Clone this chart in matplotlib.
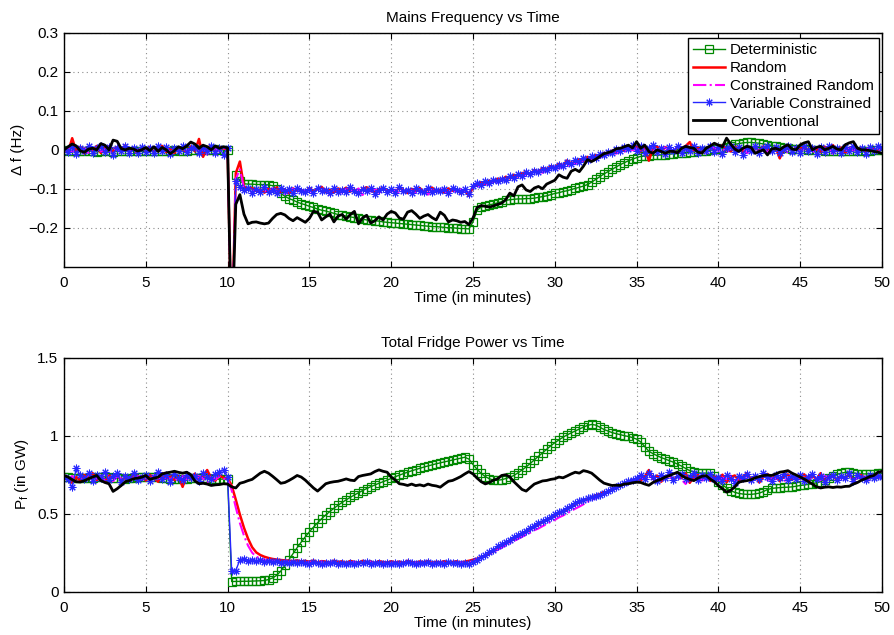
import numpy as np
import matplotlib
matplotlib.use("Agg")
import matplotlib.pyplot as plt

plt.rcParams['font.family'] = ['Liberation Sans', 'DejaVu Sans']
plt.rcParams['font.size'] = 11

# время, шаг 0.25 мин
t = np.arange(201) * 0.25

labels = ['Deterministic', 'Random', 'Constrained Random',
          'Variable Constrained', 'Conventional']

# --- отклонение частоты, Гц ---
det_f = [0.000, -0.002, -0.003, -0.002, -0.004, -0.003, -0.002, -0.004, -0.005, -0.004,
         -0.003, -0.004, -0.005, -0.003, -0.002, -0.004, -0.003, -0.002, -0.003, -0.004,
         -0.004, -0.003, -0.002, -0.003, -0.004, -0.003, -0.002, -0.001, -0.002, -0.003,
         -0.002, -0.001, 0.000, 0.001, 0.000, -0.001, 0.000, 0.001, 0.000, 0.000,
         0.000, -0.500, -0.065, -0.080, -0.087, -0.088, -0.088, -0.089, -0.089, -0.089,
         -0.090, -0.092, -0.100, -0.112, -0.119, -0.125, -0.129, -0.134, -0.138, -0.141,
         -0.145, -0.148, -0.152, -0.155, -0.157, -0.160, -0.163, -0.166, -0.168, -0.170,
         -0.172, -0.174, -0.176, -0.178, -0.180, -0.181, -0.182, -0.183, -0.185, -0.186,
         -0.187, -0.188, -0.189, -0.190, -0.191, -0.192, -0.193, -0.194, -0.195, -0.196,
         -0.197, -0.197, -0.198, -0.199, -0.200, -0.200, -0.201, -0.202, -0.202, -0.203,
         -0.185, -0.155, -0.147, -0.144, -0.141, -0.139, -0.136, -0.133, -0.130, -0.128,
         -0.127, -0.126, -0.126, -0.125, -0.125, -0.124, -0.122, -0.120, -0.118, -0.115,
         -0.112, -0.110, -0.107, -0.105, -0.102, -0.099, -0.096, -0.093, -0.089, -0.083,
         -0.076, -0.069, -0.062, -0.056, -0.050, -0.044, -0.038, -0.033, -0.028, -0.024,
         -0.020, -0.017, -0.016, -0.015, -0.014, -0.014, -0.013, -0.012, -0.011, -0.010,
         -0.009, -0.008, -0.007, -0.006, -0.005, -0.004, -0.003, -0.002, -0.001, 0.001,
         0.003, 0.005, 0.008, 0.011, 0.014, 0.016, 0.018, 0.019, 0.019, 0.018,
         0.017, 0.015, 0.013, 0.011, 0.009, 0.007, 0.005, 0.004, 0.003, 0.002,
         0.002, 0.001, 0.000, 0.000, -0.001, -0.001, -0.002, -0.002, -0.002, -0.003,
         -0.003, -0.003, -0.002, -0.002, -0.003, -0.003, -0.002, -0.002, -0.001, -0.001,
         -0.001]

rnd_f = [0.002, -0.006, 0.030, -0.004, 0.008, -0.010, 0.006, -0.003, 0.010, -0.008,
         0.004, 0.009, -0.006, 0.007, -0.002, 0.012, -0.005, 0.003, -0.009, 0.006,
         -0.004, 0.008, -0.007, 0.005, 0.010, -0.006, 0.003, -0.008, 0.006, 0.002,
         -0.005, 0.009, -0.004, 0.028, -0.018, 0.006, 0.010, -0.004, 0.008, 0.003,
         0.002, -0.500, -0.060, -0.030, -0.095, -0.100, -0.098, -0.106, -0.102, -0.110,
         -0.100, -0.104, -0.096, -0.108, -0.101, -0.112, -0.099, -0.105, -0.103, -0.109,
         -0.098, -0.106, -0.101, -0.095, -0.108, -0.103, -0.110, -0.099, -0.104, -0.097,
         -0.107, -0.102, -0.112, -0.100, -0.096, -0.105, -0.109, -0.101, -0.098, -0.106,
         -0.103, -0.108, -0.097, -0.104, -0.111, -0.100, -0.106, -0.098, -0.109, -0.102,
         -0.097, -0.107, -0.103, -0.110, -0.099, -0.105, -0.101, -0.112, -0.104, -0.118,
         -0.095, -0.090, -0.083, -0.088, -0.079, -0.082, -0.074, -0.078, -0.069, -0.073,
         -0.064, -0.068, -0.060, -0.057, -0.062, -0.052, -0.056, -0.047, -0.050, -0.042,
         -0.045, -0.036, -0.040, -0.027, -0.035, -0.030, -0.024, -0.029, -0.018, -0.022,
         -0.013, -0.017, -0.008, -0.012, -0.002, -0.006, 0.004, -0.001, 0.008, 0.002,
         0.010, -0.004, 0.006, -0.028, 0.004, 0.009, -0.005, 0.007, 0.002, -0.006,
         0.008, 0.003, 0.010, 0.020, -0.003, 0.006, -0.008, 0.004, 0.009, -0.002,
         0.006, 0.012, 0.002, -0.004, 0.008, 0.003, -0.006, 0.010, 0.000, 0.005,
         -0.003, 0.009, 0.002, -0.005, 0.007, -0.022, 0.004, 0.008, -0.002, 0.006,
         0.003, 0.010, -0.004, 0.007, 0.001, -0.006, 0.008, 0.002, 0.012, -0.003,
         0.006, -0.008, 0.004, 0.009, 0.000, 0.005, -0.004, 0.007, 0.002, -0.003,
         0.004]

crd_f = [0.000, 0.004, -0.006, 0.008, -0.003, 0.005, -0.008, 0.003, 0.006, -0.004,
         0.002, -0.007, 0.005, 0.000, -0.006, 0.004, -0.010, 0.006, -0.002, 0.003,
         0.005, -0.003, 0.007, -0.005, 0.002, 0.006, -0.008, 0.004, -0.002, 0.007,
         -0.004, 0.003, 0.010, -0.006, 0.002, -0.012, 0.005, 0.003, -0.004, 0.004,
         0.000, -0.500, -0.075, -0.050, -0.098, -0.104, -0.110, -0.100, -0.107, -0.103,
         -0.112, -0.099, -0.106, -0.101, -0.114, -0.104, -0.100, -0.109, -0.102, -0.106,
         -0.104, -0.112, -0.099, -0.107, -0.102, -0.115, -0.101, -0.106, -0.110, -0.100,
         -0.104, -0.108, -0.099, -0.116, -0.103, -0.107, -0.101, -0.110, -0.105, -0.099,
         -0.108, -0.102, -0.113, -0.100, -0.106, -0.104, -0.111, -0.101, -0.107, -0.115,
         -0.102, -0.108, -0.100, -0.106, -0.112, -0.103, -0.109, -0.101, -0.106, -0.110,
         -0.098, -0.094, -0.089, -0.085, -0.090, -0.081, -0.084, -0.076, -0.080, -0.071,
         -0.075, -0.066, -0.070, -0.062, -0.066, -0.058, -0.054, -0.059, -0.049, -0.053,
         -0.044, -0.048, -0.039, -0.042, -0.033, -0.037, -0.028, -0.031, -0.024, -0.026,
         -0.018, -0.021, -0.012, -0.015, -0.007, -0.010, -0.002, -0.005, 0.002, -0.001,
         0.003, -0.006, 0.005, -0.003, 0.007, -0.012, 0.002, 0.006, -0.004, 0.003,
         -0.008, 0.005, 0.001, -0.005, 0.007, -0.002, 0.004, -0.010, 0.003, 0.006,
         -0.003, 0.004, -0.007, 0.006, 0.001, -0.004, 0.005, -0.009, 0.003, 0.007,
         -0.002, 0.004, -0.006, 0.002, 0.006, -0.004, 0.003, -0.008, 0.005, 0.001,
         -0.005, 0.004, 0.000, -0.007, 0.006, 0.002, -0.004, 0.005, -0.010, 0.003,
         0.001, -0.004, 0.006, -0.002, 0.004, -0.006, 0.002, 0.005, -0.003, 0.001,
         0.002]

var_f = [0.003, -0.005, 0.008, -0.010, 0.006, -0.004, 0.009, -0.008, 0.004, 0.010,
         -0.006, 0.007, -0.012, 0.005, -0.003, 0.011, -0.007, 0.004, -0.009, 0.008,
         -0.005, 0.006, -0.009, 0.010, -0.004, 0.007, -0.011, 0.005, -0.003, 0.009,
         -0.006, 0.004, 0.008, -0.007, 0.006, -0.004, 0.010, -0.008, 0.005, -0.012,
         0.004, -0.500, -0.080, -0.095, -0.104, -0.098, -0.110, -0.101, -0.107, -0.096,
         -0.109, -0.103, -0.112, -0.099, -0.106, -0.101, -0.111, -0.097, -0.105, -0.108,
         -0.100, -0.110, -0.097, -0.106, -0.102, -0.112, -0.098, -0.107, -0.103, -0.109,
         -0.096, -0.105, -0.111, -0.100, -0.106, -0.099, -0.113, -0.102, -0.097, -0.108,
         -0.101, -0.110, -0.095, -0.106, -0.103, -0.112, -0.099, -0.105, -0.108, -0.097,
         -0.109, -0.102, -0.106, -0.100, -0.111, -0.098, -0.104, -0.107, -0.101, -0.114,
         -0.092, -0.086, -0.090, -0.081, -0.084, -0.078, -0.081, -0.074, -0.077, -0.068,
         -0.072, -0.063, -0.067, -0.058, -0.062, -0.054, -0.057, -0.048, -0.052, -0.043,
         -0.046, -0.038, -0.041, -0.032, -0.036, -0.027, -0.030, -0.022, -0.026, -0.016,
         -0.020, -0.010, -0.014, -0.005, -0.008, 0.002, -0.003, 0.008, 0.003, 0.012,
         -0.004, 0.009, -0.008, 0.006, 0.012, -0.006, 0.004, -0.010, 0.008, -0.003,
         0.010, -0.007, 0.005, -0.002, 0.011, -0.008, 0.006, -0.004, 0.009, -0.006,
         0.007, -0.010, 0.004, 0.010, -0.005, 0.008, -0.012, 0.006, -0.003, 0.009,
         -0.007, 0.005, 0.011, -0.004, 0.007, -0.009, 0.003, 0.010, -0.006, 0.004,
         -0.008, 0.009, -0.003, 0.006, -0.011, 0.007, -0.005, 0.010, -0.004, 0.005,
         -0.009, 0.008, -0.002, 0.011, -0.006, 0.004, -0.010, 0.007, -0.003, 0.009,
         0.005]

cnv_f = [0.000, 0.008, 0.015, 0.010, -0.003, -0.006, 0.002, 0.004, 0.000, 0.016,
         0.012, 0.000, 0.025, 0.022, 0.003, 0.000, 0.004, 0.002, -0.003, 0.000,
         0.006, -0.002, 0.008, -0.004, 0.006, 0.000, -0.010, -0.002, 0.008, 0.003,
         0.010, 0.020, 0.015, 0.004, 0.012, 0.008, 0.000, 0.010, 0.004, 0.008,
         0.005, -0.500, -0.140, -0.115, -0.165, -0.190, -0.186, -0.185, -0.188, -0.190,
         -0.188, -0.176, -0.166, -0.163, -0.167, -0.176, -0.182, -0.174, -0.180, -0.186,
         -0.176, -0.158, -0.160, -0.180, -0.172, -0.165, -0.185, -0.170, -0.166, -0.178,
         -0.166, -0.158, -0.190, -0.175, -0.168, -0.188, -0.182, -0.172, -0.180, -0.165,
         -0.158, -0.162, -0.175, -0.178, -0.160, -0.156, -0.165, -0.176, -0.170, -0.166,
         -0.174, -0.180, -0.160, -0.168, -0.185, -0.180, -0.182, -0.186, -0.184, -0.192,
         -0.175, -0.148, -0.143, -0.145, -0.147, -0.144, -0.140, -0.137, -0.128, -0.111,
         -0.118, -0.095, -0.090, -0.103, -0.107, -0.098, -0.094, -0.100, -0.088, -0.083,
         -0.078, -0.064, -0.070, -0.073, -0.055, -0.050, -0.056, -0.042, -0.025, -0.030,
         -0.024, -0.017, -0.010, -0.007, -0.004, 0.003, 0.004, 0.008, 0.012, 0.005,
         0.021, 0.004, 0.012, -0.004, -0.009, 0.000, -0.004, -0.009, -0.004, -0.004,
         -0.008, 0.004, 0.009, 0.006, 0.004, -0.006, -0.008, 0.004, 0.010, 0.017,
         0.012, 0.008, 0.030, 0.015, 0.002, -0.004, 0.004, 0.009, 0.006, -0.009,
         -0.004, 0.000, -0.013, 0.002, 0.004, 0.000, 0.008, 0.013, 0.002, 0.000,
         0.013, 0.018, 0.021, 0.000, 0.006, 0.009, 0.000, 0.004, 0.009, 0.002,
         0.000, 0.013, 0.018, 0.021, 0.004, 0.000, 0.000, -0.002, -0.004, -0.006,
         -0.009]

# --- мощность холодильников, ГВт ---
det_p = [0.735, 0.733, 0.731, 0.728, 0.726, 0.727, 0.729, 0.731, 0.733, 0.735,
         0.736, 0.734, 0.731, 0.728, 0.726, 0.725, 0.727, 0.730, 0.733, 0.735,
         0.737, 0.738, 0.736, 0.733, 0.730, 0.727, 0.724, 0.722, 0.721, 0.722,
         0.724, 0.727, 0.729, 0.730, 0.729, 0.727, 0.724, 0.722, 0.721, 0.722,
         0.720, 0.065, 0.066, 0.066, 0.067, 0.067, 0.068, 0.069, 0.070, 0.072,
         0.078, 0.088, 0.105, 0.132, 0.168, 0.206, 0.245, 0.282, 0.318, 0.352,
         0.384, 0.414, 0.442, 0.468, 0.492, 0.514, 0.535, 0.554, 0.572, 0.589,
         0.605, 0.620, 0.634, 0.648, 0.661, 0.673, 0.684, 0.695, 0.705, 0.715,
         0.726, 0.737, 0.747, 0.757, 0.766, 0.775, 0.783, 0.791, 0.799, 0.806,
         0.813, 0.820, 0.826, 0.832, 0.838, 0.844, 0.850, 0.856, 0.862, 0.850,
         0.815, 0.785, 0.758, 0.738, 0.724, 0.716, 0.714, 0.718, 0.725, 0.734,
         0.745, 0.762, 0.780, 0.800, 0.822, 0.845, 0.868, 0.890, 0.912, 0.935,
         0.955, 0.973, 0.990, 1.005, 1.018, 1.030, 1.043, 1.055, 1.066, 1.072,
         1.068, 1.055, 1.040, 1.030, 1.020, 1.013, 1.007, 1.000, 0.995, 0.988,
         0.978, 0.960, 0.930, 0.900, 0.885, 0.872, 0.860, 0.850, 0.840, 0.830,
         0.818, 0.805, 0.790, 0.776, 0.768, 0.762, 0.760, 0.760, 0.758, 0.740,
         0.705, 0.685, 0.665, 0.648, 0.637, 0.630, 0.626, 0.624, 0.624, 0.627,
         0.632, 0.642, 0.655, 0.662, 0.665, 0.667, 0.669, 0.670, 0.672, 0.676,
         0.681, 0.684, 0.688, 0.693, 0.698, 0.706, 0.718, 0.732, 0.744, 0.753,
         0.760, 0.765, 0.766, 0.762, 0.757, 0.755, 0.755, 0.756, 0.757, 0.758,
         0.758]

rnd_p = [0.742, 0.725, 0.698, 0.735, 0.712, 0.748, 0.722, 0.760, 0.715, 0.738,
         0.705, 0.745, 0.728, 0.752, 0.710, 0.733, 0.719, 0.755, 0.726, 0.740,
         0.712, 0.748, 0.730, 0.705, 0.760, 0.724, 0.741, 0.715, 0.738, 0.672,
         0.745, 0.722, 0.757, 0.718, 0.735, 0.780, 0.728, 0.712, 0.744, 0.730,
         0.728, 0.680, 0.590, 0.495, 0.410, 0.340, 0.285, 0.252, 0.235, 0.224,
         0.216, 0.210, 0.206, 0.203, 0.201, 0.199, 0.196, 0.201, 0.194, 0.198,
         0.192, 0.200, 0.188, 0.196, 0.193, 0.186, 0.199, 0.190, 0.195, 0.184,
         0.197, 0.191, 0.186, 0.198, 0.189, 0.194, 0.183, 0.196, 0.190, 0.187,
         0.195, 0.188, 0.193, 0.184, 0.198, 0.190, 0.186, 0.194, 0.189, 0.197,
         0.185, 0.192, 0.188, 0.196, 0.183, 0.191, 0.195, 0.187, 0.193, 0.198,
         0.205, 0.212, 0.222, 0.228, 0.246, 0.258, 0.279, 0.290, 0.312, 0.320,
         0.342, 0.355, 0.372, 0.385, 0.404, 0.418, 0.430, 0.448, 0.460, 0.472,
         0.488, 0.500, 0.515, 0.528, 0.545, 0.560, 0.572, 0.585, 0.596, 0.602,
         0.618, 0.625, 0.640, 0.635, 0.660, 0.672, 0.678, 0.690, 0.702, 0.715,
         0.725, 0.712, 0.738, 0.780, 0.722, 0.745, 0.705, 0.735, 0.752, 0.715,
         0.742, 0.728, 0.760, 0.698, 0.736, 0.748, 0.720, 0.742, 0.710, 0.738,
         0.726, 0.750, 0.702, 0.735, 0.745, 0.712, 0.738, 0.760, 0.718, 0.742,
         0.700, 0.735, 0.755, 0.722, 0.744, 0.708, 0.738, 0.752, 0.716, 0.740,
         0.728, 0.752, 0.712, 0.744, 0.722, 0.760, 0.706, 0.738, 0.745, 0.715,
         0.742, 0.726, 0.758, 0.710, 0.735, 0.748, 0.720, 0.742, 0.730, 0.745,
         0.735]

crd_p = [0.730, 0.718, 0.742, 0.705, 0.736, 0.722, 0.750, 0.712, 0.728, 0.745,
         0.716, 0.733, 0.708, 0.740, 0.725, 0.748, 0.714, 0.731, 0.744, 0.720,
         0.738, 0.716, 0.745, 0.728, 0.712, 0.740, 0.722, 0.735, 0.706, 0.744,
         0.720, 0.736, 0.712, 0.742, 0.726, 0.698, 0.735, 0.718, 0.740, 0.724,
         0.722, 0.650, 0.540, 0.440, 0.360, 0.295, 0.250, 0.225, 0.212, 0.205,
         0.200, 0.196, 0.198, 0.192, 0.195, 0.188, 0.193, 0.186, 0.191, 0.185,
         0.190, 0.182, 0.188, 0.194, 0.180, 0.187, 0.191, 0.183, 0.189, 0.178,
         0.186, 0.192, 0.181, 0.188, 0.184, 0.190, 0.179, 0.187, 0.183, 0.189,
         0.182, 0.188, 0.179, 0.186, 0.191, 0.180, 0.187, 0.183, 0.178, 0.189,
         0.184, 0.180, 0.188, 0.182, 0.186, 0.179, 0.185, 0.190, 0.181, 0.184,
         0.196, 0.208, 0.218, 0.232, 0.240, 0.256, 0.268, 0.282, 0.298, 0.310,
         0.325, 0.338, 0.352, 0.366, 0.378, 0.394, 0.405, 0.420, 0.433, 0.448,
         0.460, 0.476, 0.488, 0.502, 0.518, 0.532, 0.545, 0.560, 0.575, 0.588,
         0.600, 0.614, 0.628, 0.640, 0.655, 0.668, 0.680, 0.692, 0.705, 0.715,
         0.722, 0.735, 0.710, 0.742, 0.728, 0.705, 0.738, 0.722, 0.745, 0.712,
         0.730, 0.718, 0.690, 0.735, 0.724, 0.742, 0.712, 0.730, 0.721, 0.738,
         0.715, 0.732, 0.720, 0.745, 0.708, 0.730, 0.722, 0.740, 0.712, 0.735,
         0.726, 0.745, 0.714, 0.732, 0.720, 0.738, 0.706, 0.728, 0.742, 0.718,
         0.735, 0.712, 0.740, 0.724, 0.730, 0.715, 0.742, 0.722, 0.736, 0.710,
         0.732, 0.720, 0.744, 0.716, 0.730, 0.725, 0.738, 0.714, 0.734, 0.728,
         0.732]

var_p = [0.738, 0.720, 0.668, 0.790, 0.745, 0.725, 0.760, 0.712, 0.748, 0.730,
         0.770, 0.715, 0.742, 0.758, 0.705, 0.740, 0.725, 0.762, 0.718, 0.735,
         0.748, 0.712, 0.738, 0.765, 0.722, 0.745, 0.705, 0.755, 0.730, 0.718,
         0.750, 0.728, 0.742, 0.708, 0.760, 0.735, 0.722, 0.752, 0.770, 0.780,
         0.735, 0.130, 0.135, 0.205, 0.212, 0.198, 0.206, 0.195, 0.203, 0.192,
         0.200, 0.188, 0.196, 0.185, 0.192, 0.183, 0.190, 0.181, 0.188, 0.184,
         0.179, 0.188, 0.183, 0.176, 0.186, 0.181, 0.189, 0.178, 0.184, 0.180,
         0.187, 0.177, 0.185, 0.182, 0.188, 0.179, 0.184, 0.181, 0.176, 0.186,
         0.180, 0.187, 0.178, 0.184, 0.189, 0.181, 0.177, 0.186, 0.182, 0.188,
         0.179, 0.185, 0.183, 0.177, 0.188, 0.181, 0.186, 0.178, 0.184, 0.180,
         0.192, 0.205, 0.220, 0.235, 0.252, 0.270, 0.290, 0.305, 0.318, 0.332,
         0.348, 0.362, 0.375, 0.392, 0.408, 0.422, 0.440, 0.452, 0.466, 0.480,
         0.495, 0.508, 0.520, 0.535, 0.552, 0.568, 0.582, 0.590, 0.598, 0.605,
         0.612, 0.622, 0.632, 0.645, 0.660, 0.672, 0.682, 0.695, 0.708, 0.718,
         0.730, 0.745, 0.722, 0.758, 0.735, 0.712, 0.748, 0.730, 0.765, 0.718,
         0.740, 0.755, 0.722, 0.738, 0.760, 0.715, 0.745, 0.728, 0.752, 0.720,
         0.735, 0.710, 0.748, 0.725, 0.700, 0.742, 0.730, 0.755, 0.715, 0.740,
         0.722, 0.760, 0.735, 0.712, 0.745, 0.728, 0.752, 0.718, 0.740, 0.725,
         0.748, 0.712, 0.738, 0.755, 0.722, 0.742, 0.706, 0.735, 0.750, 0.718,
         0.740, 0.726, 0.758, 0.712, 0.745, 0.730, 0.715, 0.748, 0.728, 0.742,
         0.738]

cnv_p = [0.745, 0.735, 0.718, 0.705, 0.703, 0.712, 0.724, 0.735, 0.745, 0.713,
         0.700, 0.692, 0.643, 0.660, 0.681, 0.705, 0.713, 0.724, 0.728, 0.734,
         0.745, 0.720, 0.728, 0.734, 0.755, 0.762, 0.766, 0.772, 0.765, 0.760,
         0.766, 0.750, 0.710, 0.692, 0.695, 0.690, 0.681, 0.685, 0.687, 0.692,
         0.690, 0.672, 0.665, 0.695, 0.702, 0.712, 0.720, 0.740, 0.760, 0.772,
         0.760, 0.740, 0.718, 0.695, 0.700, 0.713, 0.728, 0.745, 0.735, 0.715,
         0.690, 0.665, 0.645, 0.668, 0.692, 0.700, 0.705, 0.708, 0.715, 0.723,
         0.715, 0.712, 0.738, 0.745, 0.750, 0.755, 0.770, 0.781, 0.772, 0.766,
         0.735, 0.715, 0.692, 0.688, 0.681, 0.690, 0.680, 0.685, 0.678, 0.690,
         0.682, 0.678, 0.670, 0.690, 0.708, 0.713, 0.725, 0.738, 0.755, 0.770,
         0.755, 0.728, 0.705, 0.691, 0.700, 0.715, 0.723, 0.745, 0.750, 0.735,
         0.705, 0.680, 0.655, 0.645, 0.668, 0.690, 0.700, 0.710, 0.713, 0.720,
         0.724, 0.735, 0.730, 0.742, 0.755, 0.766, 0.760, 0.776, 0.770, 0.760,
         0.738, 0.715, 0.696, 0.688, 0.681, 0.683, 0.681, 0.690, 0.692, 0.698,
         0.702, 0.700, 0.690, 0.682, 0.700, 0.712, 0.722, 0.735, 0.744, 0.755,
         0.766, 0.745, 0.730, 0.720, 0.712, 0.728, 0.740, 0.744, 0.722, 0.705,
         0.680, 0.660, 0.638, 0.650, 0.672, 0.702, 0.708, 0.712, 0.718, 0.730,
         0.738, 0.744, 0.748, 0.745, 0.755, 0.766, 0.770, 0.776, 0.760, 0.748,
         0.735, 0.722, 0.705, 0.690, 0.672, 0.665, 0.670, 0.672, 0.668, 0.672,
         0.670, 0.675, 0.676, 0.690, 0.700, 0.715, 0.725, 0.738, 0.745, 0.766,
         0.772]

for arr in (det_f, rnd_f, crd_f, var_f, cnv_f, det_p, rnd_p, crd_p, var_p, cnv_p):
    assert len(arr) == len(t), len(arr)

# стили линий как в MATLAB
styles = [
    dict(color='#008800', lw=1.0, marker='s', ms=6, mfc='none', mew=0.9),
    dict(color='#ff0000', lw=1.8),
    dict(color='#ff00ff', lw=1.5, ls='-.'),
    dict(color='#2626ff', lw=1.0, marker=(8, 2, 0), ms=5.5, mew=0.75),
    dict(color='black', lw=2.0),
]


def style_axes(ax):
    ax.set_xlim(0, 50)
    ax.set_xticks(range(0, 51, 5))
    ax.grid(True, color='0.55', linestyle=(0, (1, 3)), linewidth=0.8)
    ax.tick_params(direction='in', top=True, right=True, length=4,
                   labelsize=11, pad=6.5)
    ax.tick_params(axis='y', pad=4)
    for s in ax.spines.values():
        s.set_linewidth(1.0)
    ax.set_xlabel('Time (in minutes)', fontsize=11, labelpad=1)


fig = plt.figure(figsize=(8.95, 6.35), dpi=100)
ax1 = fig.add_axes([64 / 895, 1 - 266.7 / 635, 818 / 895, 233.7 / 635])
ax2 = fig.add_axes([64 / 895, 1 - 591.7 / 635, 818 / 895, 234 / 635])

for y, st, lab in zip([det_f, rnd_f, crd_f, var_f, cnv_f], styles, labels):
    ax1.plot(t, y, label=lab, **st)
for y, st in zip([det_p, rnd_p, crd_p, var_p, cnv_p], styles):
    ax2.plot(t, y, **st)

style_axes(ax1)
ax1.set_ylim(-0.3, 0.3)
ax1.set_yticks([-0.2, -0.1, 0, 0.1, 0.2, 0.3])
ax1.set_yticklabels(['\u22120.2', '\u22120.1', '0', '0.1', '0.2', '0.3'])
ax1.set_ylabel('\u0394 f (Hz)', fontsize=11, labelpad=2.5)
ax1.set_title('Mains Frequency vs Time', fontsize=11, pad=8)

style_axes(ax2)
ax2.set_ylim(0, 1.5)
ax2.set_yticks([0, 0.5, 1, 1.5])
ax2.set_yticklabels(['0', '0.5', '1', '1.5'])
ax2.set_ylabel('P$_\\mathregular{f}$ (in GW)', fontsize=11, labelpad=4.5)
ax2.set_title('Total Fridge Power vs Time', fontsize=11, pad=8)

leg = ax1.legend(loc='upper right', bbox_to_anchor=(1 - 3 / 818, 1 - 5 / 234),
                 borderaxespad=0, fontsize=11, fancybox=False, framealpha=1,
                 edgecolor='black', handlelength=2.1, handletextpad=0.3,
                 labelspacing=0.25, borderpad=0.35, numpoints=1)
leg.get_frame().set_linewidth(1.0)

fig.savefig('out.png', dpi=100)
